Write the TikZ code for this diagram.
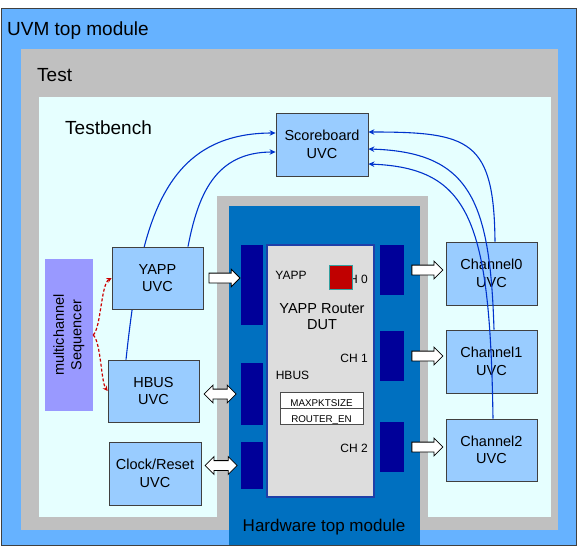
\documentclass[tikz,border=0pt]{standalone}
\usepackage{fontspec}
\setmainfont{Liberation Sans}
\usetikzlibrary{arrows.meta,shapes.arrows}

\definecolor{uvmblue}{HTML}{66B2FF}
\definecolor{testgray}{HTML}{C0C0C0}
\definecolor{tbcyan}{HTML}{E6FFFF}
\definecolor{hwblue}{HTML}{0070C0}
\definecolor{portnavy}{HTML}{000099}
\definecolor{dutgray}{HTML}{DDDDDD}
\definecolor{dutedge}{HTML}{1F3FA8}
\definecolor{uvcfill}{HTML}{99CCFF}
\definecolor{seqpurple}{HTML}{9999FF}
\definecolor{probered}{HTML}{C00000}
\definecolor{probeedge}{HTML}{33A0A0}
\definecolor{linkblue}{HTML}{0033CC}
\definecolor{seqred}{HTML}{CC0000}

\begin{document}
\begin{tikzpicture}[x=1pt,y=-1pt,
		uvc/.style={draw=black!75, fill=uvcfill, line width=0.8pt, align=center, inner sep=0pt,
			font=\fontsize{14.5}{17.5}\selectfont},
		port/.style={fill=portnavy, inner sep=0pt},
		dutlabel/.style={font=\fontsize{12}{14}\selectfont, inner sep=0pt},
		reg/.style={draw=black!70, fill=white, line width=0.6pt, inner sep=0pt, minimum width=83pt,
			minimum height=16pt, text height=12pt, text depth=0pt, font=\fontsize{9.8}{11}\selectfont},
		title/.style={font=\fontsize{19}{22}\selectfont, inner sep=0pt, anchor=base west},
		blockarr/.style={draw=black, fill=white, line width=0.8pt, single arrow, single arrow head extend=4pt,
			minimum width=17pt, minimum height=31pt, inner sep=4.5pt},
		dblarr/.style={draw=black, fill=white, line width=0.8pt, double arrow, double arrow head extend=4pt,
			minimum width=17pt, minimum height=32pt, inner sep=4.5pt},
		monitor/.style={draw=linkblue, line width=1.1pt, -{Stealth[length=6pt,width=5.5pt]}},
		seqlink/.style={draw=seqred, line width=1.2pt, dash pattern=on 3pt off 2pt, -{Stealth[length=5pt,width=5pt]}}]

		\useasboundingbox (0,0) rectangle (587,560);
		\fill[uvmblue] (1,8) rectangle (576,545);
		\fill[testgray] (21,49) rectangle (558,530);
		\fill[tbcyan] (39,97) rectangle (551,517);
		\fill[testgray] (217,196) rectangle (428,530);
		\fill[hwblue] (229,206) rectangle (420,545);
		\draw[black!75, line width=0.8pt] (1,8) rectangle (576,545);

		\node[title] (uvmtitle) at (7,35) {UVM top module};
		\node[title] (testtitle) at (37,81) {Test};
		\node[title] (tbtitle) at (65,134) {Testbench};
		\node[font=\fontsize{17}{20}\selectfont, inner sep=0pt, anchor=base] (hwtitle) at (324,531) {Hardware top module};

		\node[draw=dutedge, fill=dutgray, line width=1.2pt, minimum width=107pt, minimum height=252pt] (dut) at (320.5,371) {};
		\node[port, minimum width=22pt, minimum height=80pt] (pl1) at (252,285) {};
		\node[port, minimum width=22pt, minimum height=62pt] (pl2) at (252,394) {};
		\node[port, minimum width=22pt, minimum height=47pt] (pl3) at (252,465.5) {};
		\node[port, minimum width=24pt, minimum height=50pt] (pr1) at (392,270) {};
		\node[port, minimum width=24pt, minimum height=50pt] (pr2) at (392,356) {};
		\node[port, minimum width=24pt, minimum height=50pt] (pr3) at (392,447) {};

		\node[dutlabel, anchor=base] (yapplbl) at (291,279) {YAPP};
		\node[dutlabel, anchor=base east] (ch0lbl) at (368,283) {CH 0};
		\node[draw=probeedge, fill=probered, line width=1pt, minimum width=23pt, minimum height=24pt, inner sep=0pt] (probe) at (340.5,277) {};
		\node[font=\fontsize{14.5}{16}\selectfont, align=center, inner sep=0pt] (dutlbl) at (322,317) {YAPP Router\\DUT};
		\node[dutlabel, anchor=base east] (ch1lbl) at (368,362.5) {CH 1};
		\node[dutlabel, anchor=base] (hbuslbl) at (292.5,379) {HBUS};
		\node[reg] (maxpkt) at (321.5,400) {MAXPKTSIZE};
		\node[reg] (routeren) at (321.5,416) {ROUTER\_EN};
		\node[dutlabel, anchor=base east] (ch2lbl) at (368,452) {CH 2};

		\node[fill=seqpurple, minimum width=48pt, minimum height=152pt, inner sep=0pt] (seq) at (69,335) {};
		\node[rotate=90, align=center, inner sep=0pt, font=\fontsize{14.5}{17.5}\selectfont] (seqlbl) at (seq.center) {multichannel\\Sequencer};

		\node[uvc, minimum width=92pt, minimum height=63pt] (scb) at (322,144.5) {Scoreboard\\UVC};
		\node[uvc, minimum width=91pt, minimum height=62pt] (hbus) at (153.5,391) {HBUS\\UVC};
		\node[uvc, minimum width=92pt, minimum height=63pt] (clk) at (155,473.5) {Clock/Reset\\UVC};

		\draw[monitor] ([xshift=-27.5pt]hbus.north) .. controls (140,230) and (160,133) .. ([yshift=11.5pt]scb.west);

		\node[uvc, minimum width=91pt, minimum height=62pt] (yapp) at (157.5,278) {YAPP\\UVC};
		\node[uvc, minimum width=91pt, minimum height=63pt] (ch0) at (491.5,273.5) {Channel0\\UVC};
		\node[uvc, minimum width=91pt, minimum height=63pt] (ch1) at (491.5,361.5) {Channel1\\UVC};
		\node[uvc, minimum width=91pt, minimum height=62pt] (ch2) at (491.5,450) {Channel2\\UVC};

		\draw[monitor] ([xshift=30.5pt]yapp.north) .. controls (198,195) and (215,152) .. ([yshift=-7.5pt]scb.west);
		\draw[monitor] ([xshift=3.5pt]ch0.north) .. controls (494,140) and (470,132) .. ([yshift=12.5pt]scb.east);
		\draw[monitor] ([xshift=2.5pt]ch1.north) .. controls (490,200) and (470,152) .. ([yshift=-4.5pt]scb.east);
		\draw[monitor] ([xshift=1.5pt]ch2.north) .. controls (490,220) and (470,168) .. ([yshift=-19.5pt]scb.east);

		\draw[seqlink] (seq.east) .. controls (101,328) and (101,284) .. (yapp.west);
		\draw[seqlink] (seq.east) .. controls (101,342) and (101,382) .. (hbus.west);

		\path (yapp.east) -- (yapp.east -| pl1.west) node[blockarr, midway] {};
		\path (pr1.east) -- (pr1.east -| ch0.west) node[blockarr, midway] {};
		\path (pr2.east) -- (pr2.east -| ch1.west) node[blockarr, midway] {};
		\path (pr3.east) -- (pr3.east -| ch2.west) node[blockarr, midway] {};
		\path (hbus.east |- pl2.west) -- (pl2.west) node[dblarr, midway] {};
		\path (clk.east |- pl3.west) -- (pl3.west) node[dblarr, midway] {};
	\end{tikzpicture}
\end{document}
